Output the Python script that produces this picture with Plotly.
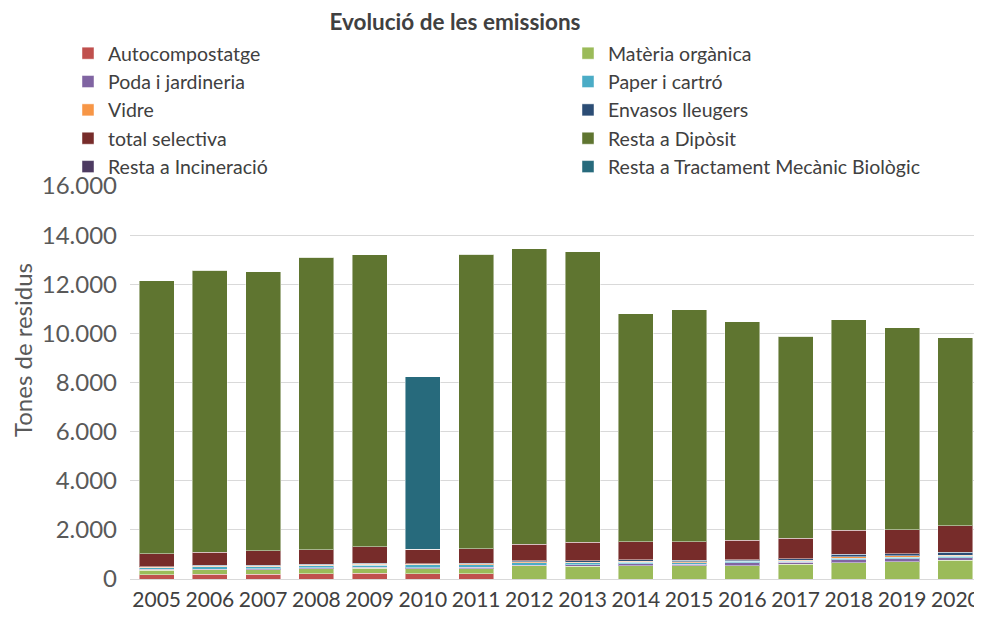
import plotly.graph_objects as go

years = [str(y) for y in range(2005, 2021)]

autocompostatge = [175, 200, 200, 215, 240, 205, 218, 0, 0, 0, 0, 0, 0, 0, 0, 0]
materia_organica = [180, 175, 175, 200, 200, 218, 204, 530, 517, 544, 530, 544, 600, 667, 707, 762]
poda_jardineria = [40, 30, 40, 40, 40, 40, 60, 30, 68, 80, 80, 122, 82, 122, 109, 109]
paper_carto = [70, 100, 80, 80, 80, 110, 100, 100, 80, 60, 60, 50, 50, 60, 70, 60]
vidre = [20, 20, 30, 30, 40, 20, 30, 40, 15, 30, 30, 20, 30, 60, 60, 40]
envasos = [20, 30, 40, 30, 40, 30, 30, 40, 60, 60, 60, 50, 70, 95, 82, 122]
total_selectiva = [520, 540, 580, 595, 675, 585, 585, 667, 748, 748, 761, 790, 830, 980, 980, 1075]
resta_diposit = [11125, 11485, 11355, 11910, 11885, 0, 12003, 12043, 11842, 9278, 9439, 8904, 8218, 8566, 8212, 7662]
resta_incineracio = [0] * 16
resta_tmb = [0, 0, 0, 0, 0, 7020, 0, 0, 0, 0, 0, 0, 0, 0, 0, 0]

series = [
    ("Autocompostatge", autocompostatge, "#C0504D"),
    ("Matèria orgànica", materia_organica, "#9BBB59"),
    ("Poda i jardineria", poda_jardineria, "#8064A2"),
    ("Paper i cartró", paper_carto, "#4BACC6"),
    ("Vidre", vidre, "#F79646"),
    ("Envasos lleugers", envasos, "#2C4D75"),
    ("total selectiva", total_selectiva, "#772C2A"),
    ("Resta a Dipòsit", resta_diposit, "#5F7530"),
    ("Resta a Incineració", resta_incineracio, "#4D3B62"),
    ("Resta a Tractament Mecànic Biològic", resta_tmb, "#276A7C"),
]

W, H = 974, 611  # page body has an 8px margin

fig = go.Figure()
for i, (name, vals, col) in enumerate(series):
    fig.add_trace(go.Bar(
        name=name, x=years, y=vals,
        legend="legend" if i % 2 == 0 else "legend2",
        marker=dict(color=col, line=dict(color="rgba(255,255,255,0.45)", width=1)),
    ))

font_family = "Lato, 'Open Sans', sans-serif"
legend_common = dict(orientation="v", xref="container", yref="container",
                     xanchor="left", yanchor="top", traceorder="normal",
                     font=dict(size=19.5, color="#404040"), itemwidth=30,
                     tracegroupgap=0, bgcolor="rgba(0,0,0,0)")
fig.update_layout(
    barmode="stack",
    bargap=0.34,
    width=W, height=H,
    paper_bgcolor="white", plot_bgcolor="white",
    separators=",.",
    font=dict(family=font_family, color="#595959"),
    margin=dict(l=122, r=0, t=178, b=40, autoexpand=False),
    title=dict(text="<b>Evolució de les emissions</b>", x=447/W, xanchor="center",
               y=1 - 14/H, yanchor="middle", font=dict(size=22.5, color="#404040")),
    legend=dict(**legend_common, x=60/W, y=1 - 26/H),
    legend2=dict(**legend_common, x=560/W, y=1 - 26/H),
    showlegend=True,
    annotations=[dict(text="Tones de residus", xref="paper", yref="paper",
                      x=(14 - 122) / (W - 122), y=(571 - 342) / (571 - 178),
                      xanchor="center", yanchor="middle", textangle=-90,
                      showarrow=False, font=dict(size=24, color="#595959"))],
)
fig.update_yaxes(range=[0, 16000], dtick=2000, tickformat=",d",
                 showgrid=True, gridcolor="#D9D9D9", gridwidth=1,
                 zeroline=True, zerolinecolor="#D9D9D9", zerolinewidth=1,
                 tickfont=dict(size=24, color="#595959"),
                 ticks="", ticklabelstandoff=12)
fig.update_xaxes(tickfont=dict(size=21, color="#404040"), showline=False, ticks="",
                 ticklabelstandoff=6)

fig.write_html("out.html")
